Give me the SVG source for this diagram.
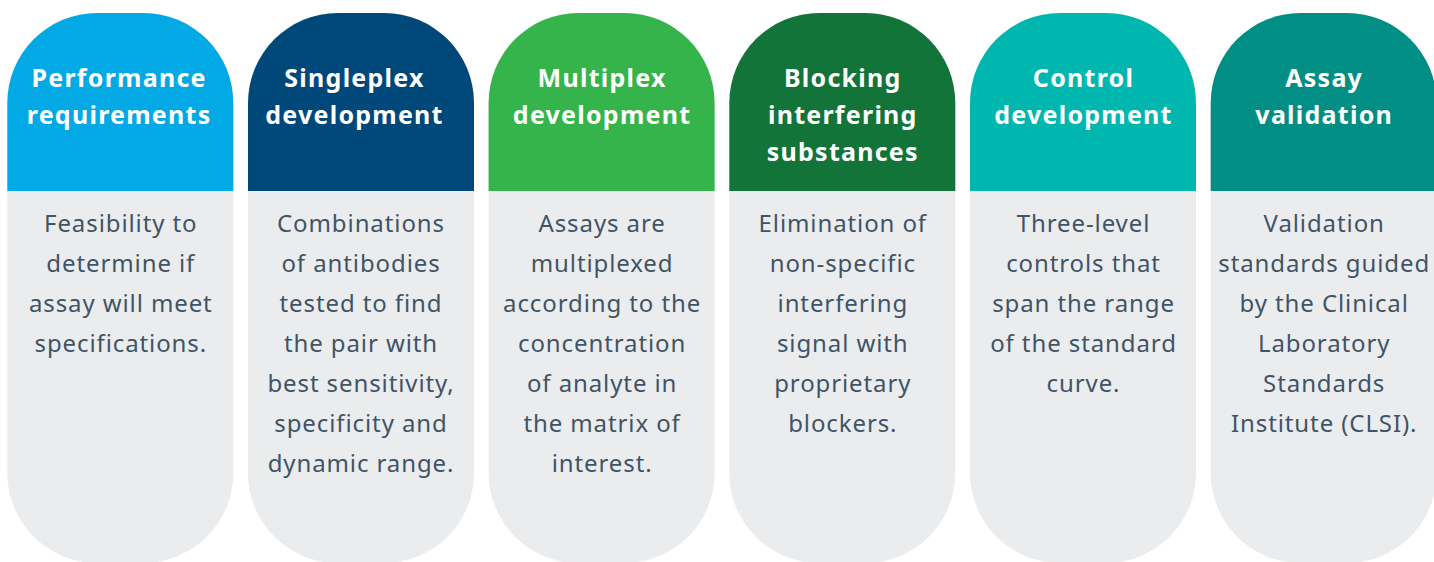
<svg xmlns="http://www.w3.org/2000/svg" width="1434" height="562" viewBox="0 0 1434 562">
<defs>
<style>
.card{fill:#ebecee}
.hd{font-family:"Noto Sans","Open Sans",sans-serif;font-weight:700;font-size:25px;fill:#ffffff;text-anchor:middle;letter-spacing:1.25px}
.bd{font-family:"Noto Sans","Open Sans",sans-serif;font-size:24px;fill:#415466;text-anchor:middle;letter-spacing:0.9px}
</style>
<path id="body" d="M0,103 A90,90 0 0 1 90,13 L136,13 A90,90 0 0 1 226,103 L226,473 A90,90 0 0 1 136,563 L90,563 A90,90 0 0 1 0,473 Z"/>
<path id="head" d="M0,191 L0,103 A90,90 0 0 1 90,13 L136,13 A90,90 0 0 1 226,103 L226,191 Z"/>
</defs>
<rect width="1434" height="562" fill="#ffffff"/>
<g id="connectors"></g>
<g id="node1" transform="translate(7.3,0)">
<use href="#body" class="card"/>
<use href="#head" fill="#03a9e4"/>
<text class="hd" x="111.8" y="87">Performance</text>
<text class="hd" x="111.8" y="124">requirements</text>
<text class="bd" x="113.5" y="232">Feasibility to</text>
<text class="bd" x="113.5" y="272">determine if</text>
<text class="bd" x="113.5" y="312">assay will meet</text>
<text class="bd" x="113.5" y="352">specifications.</text>
</g>
<g id="node2" transform="translate(248,0)">
<use href="#body" class="card"/>
<use href="#head" fill="#00477a"/>
<text class="hd" x="106.5" y="87">Singleplex</text>
<text class="hd" x="106.5" y="124">development</text>
<text class="bd" x="113" y="232">Combinations</text>
<text class="bd" x="113" y="272">of antibodies</text>
<text class="bd" x="113" y="312">tested to find</text>
<text class="bd" x="113" y="352">the pair with</text>
<text class="bd" x="113" y="392">best sensitivity,</text>
<text class="bd" x="113" y="432">specificity and</text>
<text class="bd" x="113" y="472">dynamic range.</text>
</g>
<g id="node3" transform="translate(488.6,0)">
<use href="#body" class="card"/>
<use href="#head" fill="#34b44a"/>
<text class="hd" x="113.5" y="87">Multiplex</text>
<text class="hd" x="113.5" y="124">development</text>
<text class="bd" x="113.5" y="232">Assays are</text>
<text class="bd" x="113.5" y="272">multiplexed</text>
<text class="bd" x="113.5" y="312">according to the</text>
<text class="bd" x="113.5" y="352">concentration</text>
<text class="bd" x="113.5" y="392">of analyte in</text>
<text class="bd" x="113.5" y="432">the matrix of</text>
<text class="bd" x="113.5" y="472">interest.</text>
</g>
<g id="node4" transform="translate(729.3,0)">
<use href="#body" class="card"/>
<use href="#head" fill="#13743a"/>
<text class="hd" x="113.5" y="87">Blocking</text>
<text class="hd" x="113.5" y="124">interfering</text>
<text class="hd" x="113.5" y="161">substances</text>
<text class="bd" x="113.5" y="232">Elimination of</text>
<text class="bd" x="113.5" y="272">non-specific</text>
<text class="bd" x="113.5" y="312">interfering</text>
<text class="bd" x="113.5" y="352">signal with</text>
<text class="bd" x="113.5" y="392">proprietary</text>
<text class="bd" x="113.5" y="432">blockers.</text>
</g>
<g id="node5" transform="translate(970,0)">
<use href="#body" class="card"/>
<use href="#head" fill="#00b7b0"/>
<text class="hd" x="113.5" y="87">Control</text>
<text class="hd" x="113.5" y="124">development</text>
<text class="bd" x="113.5" y="232">Three-level</text>
<text class="bd" x="113.5" y="272">controls that</text>
<text class="bd" x="113.5" y="312">span the range</text>
<text class="bd" x="113.5" y="352">of the standard</text>
<text class="bd" x="113.5" y="392">curve.</text>
</g>
<g id="node6" transform="translate(1210.7,0)">
<use href="#body" class="card"/>
<use href="#head" fill="#018e84"/>
<text class="hd" x="113.5" y="87">Assay</text>
<text class="hd" x="113.5" y="124">validation</text>
<text class="bd" x="113.5" y="232">Validation</text>
<text class="bd" x="113.5" y="272">standards guided</text>
<text class="bd" x="113.5" y="312">by the Clinical</text>
<text class="bd" x="113.5" y="352">Laboratory</text>
<text class="bd" x="113.5" y="392">Standards</text>
<text class="bd" x="113.5" y="432">Institute (CLSI).</text>
</g>
</svg>
